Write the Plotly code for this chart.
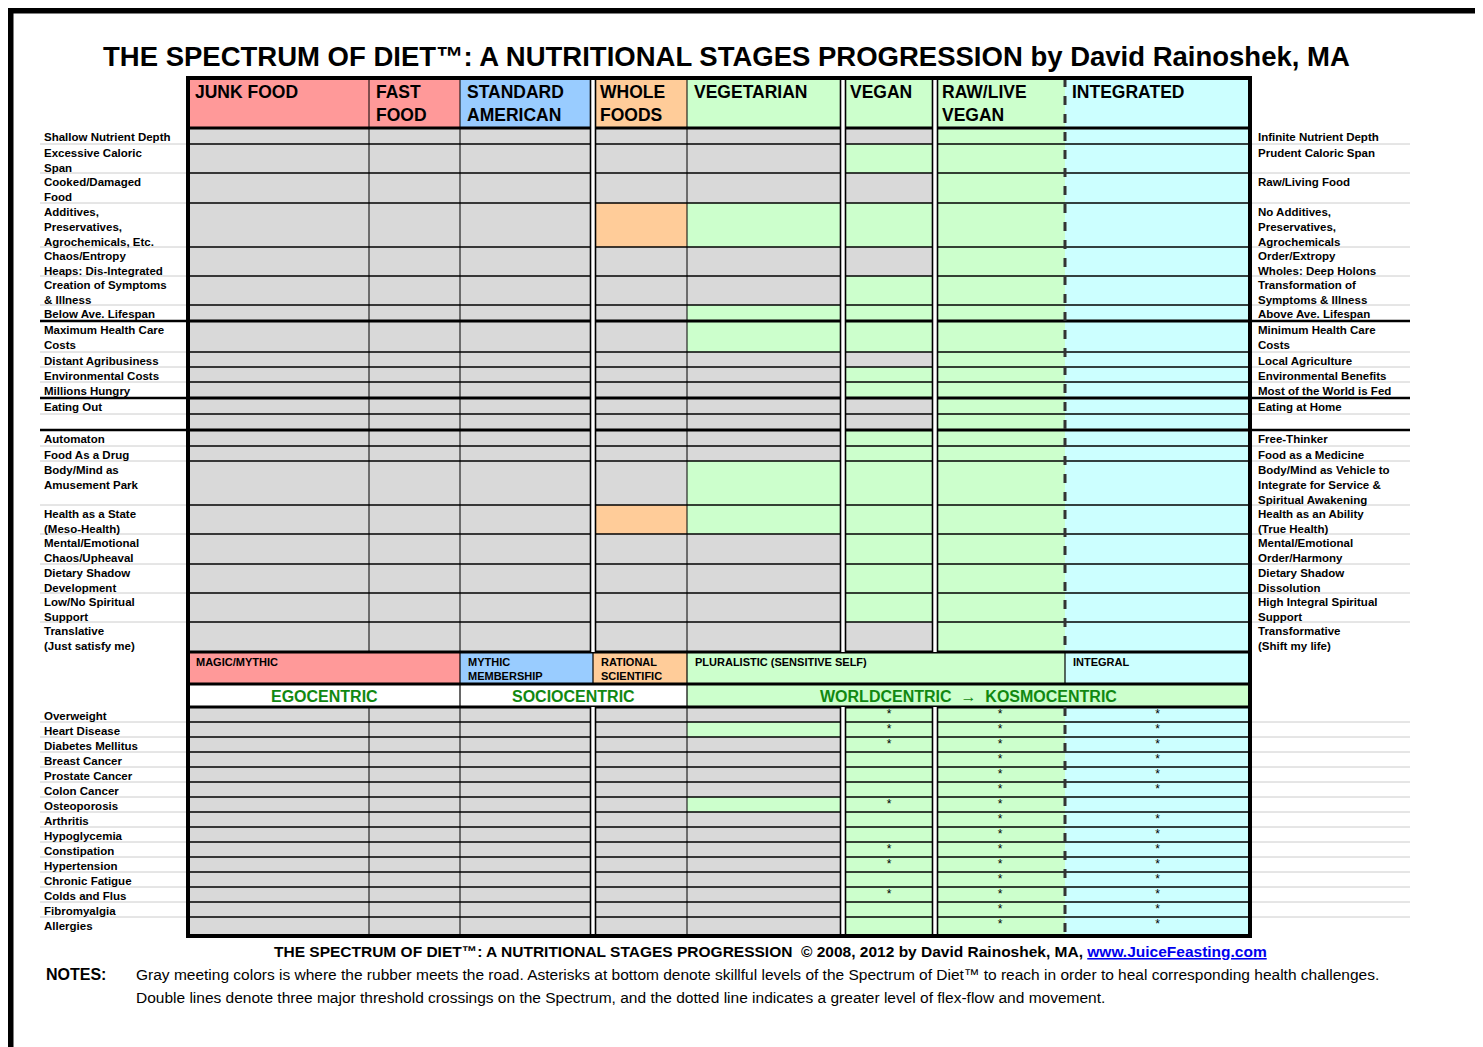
import plotly.graph_objects as go

# --- data -------------------------------------------------------------
stages = ["JUNK FOOD", "FAST<br>FOOD", "STANDARD<br>AMERICAN", "WHOLE<br>FOODS",
          "VEGETARIAN", "VEGAN", "RAW/LIVE<br>VEGAN", "INTEGRATED"]
# colour codes: 0 gray, 1 green, 2 orange, 3 cyan, 4 red, 5 blue, 6 white
header_codes = [4, 4, 5, 2, 1, 1, 1, 3]

left_top = ["Shallow Nutrient Depth", "Excessive Caloric<br>Span", "Cooked/Damaged<br>Food",
            "Additives,<br>Preservatives,<br>Agrochemicals, Etc.", "Chaos/Entropy<br>Heaps: Dis-Integrated",
            "Creation of Symptoms<br>& Illness", "Below Ave. Lifespan", "Maximum Health Care<br>Costs",
            "Distant Agribusiness", "Environmental Costs", "Millions Hungry", "Eating Out", "",
            "Automaton", "Food As a Drug", "Body/Mind as<br>Amusement Park", "Health as a State<br>(Meso-Health)",
            "Mental/Emotional<br>Chaos/Upheaval", "Dietary Shadow<br>Development", "Low/No Spiritual<br>Support",
            "Translative<br>(Just satisfy me)"]
right_top = ["Infinite Nutrient Depth", "Prudent Caloric Span", "Raw/Living Food",
             "No Additives,<br>Preservatives,<br>Agrochemicals", "Order/Extropy<br>Wholes: Deep Holons",
             "Transformation of<br>Symptoms & Illness", "Above Ave. Lifespan", "Minimum Health Care<br>Costs",
             "Local Agriculture", "Environmental Benefits", "Most of the World is Fed", "Eating at Home", "",
             "Free-Thinker", "Food as a Medicine", "Body/Mind as Vehicle to<br>Integrate for Service &<br>Spiritual Awakening",
             "Health as an Ability<br>(True Health)", "Mental/Emotional<br>Order/Harmony",
             "Dietary Shadow<br>Dissolution", "High Integral Spiritual<br>Support", "Transformative<br>(Shift my life)"]
top_codes = [
    [0, 0, 0, 0, 0, 0, 1, 3], [0, 0, 0, 0, 0, 1, 1, 3], [0, 0, 0, 0, 0, 0, 1, 3],
    [0, 0, 0, 2, 1, 1, 1, 3], [0, 0, 0, 0, 0, 0, 1, 3], [0, 0, 0, 0, 0, 1, 1, 3],
    [0, 0, 0, 0, 1, 1, 1, 3], [0, 0, 0, 0, 1, 1, 1, 3], [0, 0, 0, 0, 0, 0, 1, 3],
    [0, 0, 0, 0, 0, 1, 1, 3], [0, 0, 0, 0, 0, 1, 1, 3], [0, 0, 0, 0, 0, 0, 1, 3],
    [0, 0, 0, 0, 0, 0, 1, 3], [0, 0, 0, 0, 0, 1, 1, 3], [0, 0, 0, 0, 0, 1, 1, 3],
    [0, 0, 0, 0, 1, 1, 1, 3], [0, 0, 0, 2, 1, 1, 1, 3], [0, 0, 0, 0, 0, 1, 1, 3],
    [0, 0, 0, 0, 0, 1, 1, 3], [0, 0, 0, 0, 0, 1, 1, 3], [0, 0, 0, 0, 0, 0, 1, 3]]

levels = ["MAGIC/MYTHIC", "MYTHIC<br>MEMBERSHIP", "RATIONAL<br>SCIENTIFIC", "PLURALISTIC (SENSITIVE SELF)", "INTEGRAL"]
level_codes = [4, 5, 2, 1, 3]
centrics = ["EGOCENTRIC", "SOCIOCENTRIC", "WORLDCENTRIC  \u2192  KOSMOCENTRIC"]
centric_codes = [6, 6, 1]

ailments = ["Overweight", "Heart Disease", "Diabetes Mellitus", "Breast Cancer", "Prostate Cancer",
            "Colon Cancer", "Osteoporosis", "Arthritis", "Hypoglycemia", "Constipation", "Hypertension",
            "Chronic Fatigue", "Colds and Flus", "Fibromyalgia", "Allergies"]
veg_green = [0, 1, 0, 0, 0, 0, 1, 0, 0, 0, 0, 0, 0, 0, 0]
star_vegan = [1, 1, 1, 0, 0, 0, 1, 0, 0, 1, 1, 0, 1, 0, 0]
star_raw = [1] * 15
star_int = [1, 1, 1, 1, 1, 1, 0, 1, 1, 1, 1, 1, 1, 1, 1]

# --- layout geometry (pixels) ----------------------------------------
col_x = [188, 369, 460, 593, 687, 843, 935, 1065, 1250]
level_x = [188, 460, 593, 687, 1065, 1250]
centric_x = [188, 460, 687, 1250]
head_y = [78, 128]
top_y = [128, 144, 173, 203, 247, 276, 305, 321, 352, 367, 382, 398, 414, 430, 446, 461, 505, 534, 564, 593, 622, 652]
level_y = [652, 684]
centric_y = [684, 707]
bot_y = [707 + 15 * i for i in range(16)]
bot_y[-1] = 934

palette = ["#d9d9d9", "#ccffcc", "#ffcc99", "#ccffff", "#ff9999", "#99ccff", "#ffffff"]
cscale = []
for i, c in enumerate(palette):
    cscale += [[i / 7, c], [(i + 1) / 7, c]]

bot_codes = [[0, 0, 0, 0, g, 1, 1, 3] for g in veg_green]

fig = go.Figure()
def grid(xe, ye, z):
    fig.add_trace(go.Heatmap(x=xe, y=ye, z=z, zmin=-0.5, zmax=6.5, colorscale=cscale,
                             showscale=False, hoverinfo="skip"))

grid(col_x, head_y, [header_codes])
grid(col_x, top_y, top_codes)
grid(level_x, level_y, [level_codes])
grid(centric_x, centric_y, [centric_codes])
grid(col_x, bot_y, bot_codes)

shapes = []
def line(x0, y0, x1, y1, w=1.2, c="black", dash="solid"):
    shapes.append(dict(type="line", x0=x0, y0=y0, x1=x1, y1=y1,
                       line=dict(color=c, width=w, dash=dash)))

thick = {321, 398, 430}
for y in top_y[1:-1] + bot_y[1:-1]:
    w = 3 if y in thick else 1.5
    line(188, y, 1250, y, w)
    if y in thick:
        line(40, y, 188, y, 2.5)
        line(1250, y, 1410, y, 2.5)
    else:
        line(40, y, 188, y, 1, "#cccccc")
        line(1250, y, 1410, y, 1, "#cccccc")
for y in [128, 652, 684, 707]:
    line(188, y, 1250, y, 3)

for y0, y1 in [(78, 652), (707, 934)]:
    for x in col_x[1:-1]:
        if x in (593, 843, 935):
            line(x, y0, x, y1, 5, "white")
            line(x - 2.5, y0, x - 2.5, y1, 1.6)
            line(x + 2.5, y0, x + 2.5, y1, 1.6)
        elif x == 1065:
            line(x, y0, x, y1, 3, "#333333", "dash")
        else:
            line(x, y0, x, y1, 1)
for x in level_x[1:-1]:
    line(x, 652, x, 684, 1.2)
for x in centric_x[1:-1]:
    line(x, 684, x, 707, 1.2)
shapes.append(dict(type="rect", x0=188, y0=78, x1=1250, y1=936, line=dict(color="black", width=4)))
shapes.append(dict(type="rect", x0=10, y0=10, x1=1487, y1=1051, line=dict(color="black", width=7)))

ann = []
def txt(x, y, s, size=12, bold=True, xa="left", ya="top", color="black", fam="Liberation Sans"):
    ann.append(dict(x=x, y=y, text="<b>%s</b>" % s if bold else s, showarrow=False, xanchor=xa,
                    yanchor=ya, align=xa if xa != "center" else "center",
                    font=dict(size=size, color=color, family=fam)))

txt(726, 56, "THE SPECTRUM OF DIET\u2122: A NUTRITIONAL STAGES PROGRESSION by David Rainoshek, MA",
    27.5, xa="center", ya="middle")
for i, s in enumerate(stages):
    txt(col_x[i] + 5, 80, s, 17.5)
lab_font = 11.5
for i in range(len(left_top)):
    txt(42, top_y[i] + 0.5, left_top[i], lab_font)
    txt(1256, top_y[i] + 0.5, right_top[i], lab_font)
for i, s in enumerate(levels):
    txt(level_x[i] + 6, 654, s, 11)
for i, s in enumerate(centrics):
    txt((centric_x[i] + centric_x[i + 1]) / 2, 696, s, 16, xa="center", ya="middle", color="#118811")
for i, s in enumerate(ailments):
    txt(42, bot_y[i] + 0.5, s, lab_font)

sx, sy = [], []
centers = [(col_x[5] + col_x[6]) / 2, (col_x[6] + col_x[7]) / 2, (col_x[7] + col_x[8]) / 2]
for j, flags in enumerate([star_vegan, star_raw, star_int]):
    for i, f in enumerate(flags):
        if f:
            sx.append(centers[j])
            sy.append(bot_y[i] + 8)
fig.add_trace(go.Scatter(x=sx, y=sy, mode="text", text=["*"] * len(sx),
                         textfont=dict(size=12, color="black", family="Liberation Sans"), hoverinfo="skip"))

txt(770, 951, "THE SPECTRUM OF DIET\u2122: A NUTRITIONAL STAGES PROGRESSION  \u00a9 2008, 2012 by David Rainoshek, MA, "
    "<span style='color:#0000ee'><u>www.JuiceFeasting.com</u></span>", 15.5, xa="center", ya="middle")
txt(44, 974, "NOTES:", 16, ya="middle")
txt(134, 974, "Gray meeting colors is where the rubber meets the road. Asterisks at bottom denote skillful levels of the "
    "Spectrum of Diet\u2122 to reach in order to heal corresponding health challenges.", 15.5, bold=False,
    ya="middle")
txt(134, 997, "Double lines denote three major threshold crossings on the Spectrum, and the dotted line indicates a "
    "greater level of flex-flow and movement.", 15.5, bold=False, ya="middle")

# the page body adds an 8px offset, so the axis ranges start at 8
fig.update_layout(width=1483, height=1047, margin=dict(l=0, r=0, t=0, b=0),
                  paper_bgcolor="white", plot_bgcolor="white", showlegend=False,
                  xaxis=dict(range=[8, 1491], visible=False, fixedrange=True),
                  yaxis=dict(range=[1055, 8], visible=False, fixedrange=True),
                  shapes=shapes, annotations=ann)
fig.write_html("out.html")
